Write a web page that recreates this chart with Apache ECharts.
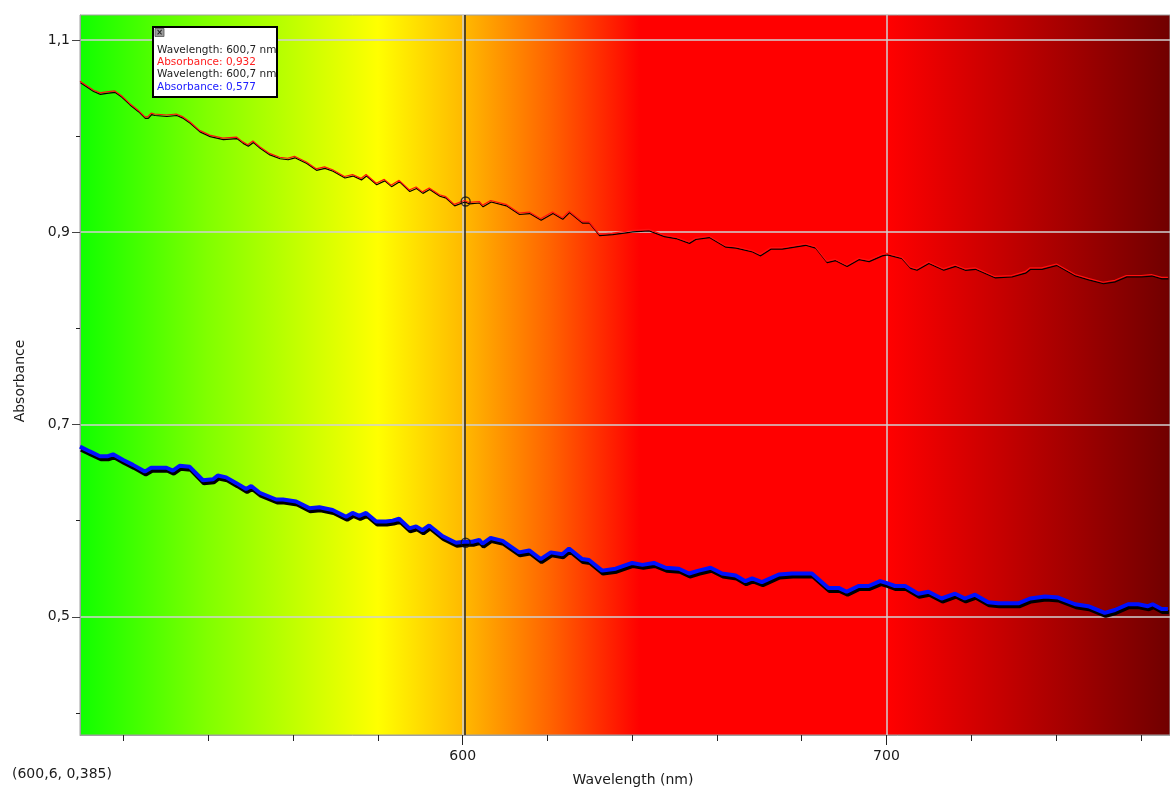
<!DOCTYPE html>
<html><head><meta charset="utf-8">
<script src="https://cdn.jsdelivr.net/npm/echarts@6/dist/echarts.min.js"></script>
<style>html,body{margin:0;padding:0;background:#fff}#c{width:1170px;height:790px}</style>
</head><body><div id="c"></div>
<script>
// ---- data ----
const redWl = [509.7,512.8,514.4,515.9,517.9,519.5,521.4,523.4,525.0,525.7,526.5,527.3,530.1,532.4,534.0,535.6,537.9,540.3,543.4,546.6,548.1,549.3,550.5,552.1,554.4,556.8,558.7,560.3,563.1,565.4,567.4,569.3,572.1,574.0,576.0,577.2,579.6,581.5,583.1,585.0,587.4,589.0,590.5,592.1,594.5,596.0,598.0,600.4,601.5,603.9,604.7,606.6,610.2,613.3,615.7,618.4,621.2,623.5,625.1,628.2,629.8,632.2,635.3,638.4,640.0,643.9,647.5,650.2,653.4,654.9,658.1,662.0,664.4,668.3,670.2,672.6,675.3,680.8,683.2,685.9,687.9,690.6,693.4,695.8,698.9,700.1,703.6,705.6,707.1,709.9,713.4,716.2,718.5,720.9,725.6,729.5,732.7,733.9,736.6,740.1,744.5,747.6,751.1,753.9,756.6,760.1,762.5,764.9,766.4];
const redAbs = [1.057,1.048,1.045,1.046,1.047,1.042,1.034,1.027,1.020,1.020,1.024,1.023,1.022,1.023,1.020,1.015,1.006,1.001,0.998,0.999,0.994,0.991,0.995,0.989,0.982,0.978,0.977,0.979,0.973,0.966,0.968,0.965,0.958,0.960,0.956,0.960,0.951,0.955,0.949,0.954,0.944,0.947,0.942,0.946,0.939,0.937,0.929,0.933,0.931,0.932,0.928,0.933,0.929,0.920,0.921,0.914,0.921,0.915,0.922,0.911,0.911,0.898,0.899,0.901,0.902,0.903,0.897,0.895,0.890,0.894,0.896,0.886,0.885,0.881,0.877,0.884,0.884,0.888,0.885,0.870,0.872,0.866,0.873,0.871,0.877,0.878,0.874,0.864,0.862,0.869,0.862,0.866,0.862,0.863,0.854,0.855,0.859,0.863,0.863,0.867,0.856,0.852,0.848,0.850,0.855,0.855,0.856,0.853,0.853];
const blueWl = [509.7,512.0,514.4,516.3,517.5,519.9,522.2,525.0,526.5,530.1,531.6,533.2,535.6,538.7,541.1,542.2,544.2,546.6,548.9,550.1,552.1,556.0,557.6,560.7,563.8,566.2,569.3,572.5,574.0,575.6,577.2,579.6,581.9,583.5,585.0,587.4,589.0,590.5,592.1,595.2,598.4,600.4,602.3,603.9,604.7,606.6,609.4,613.3,615.7,618.4,620.8,623.5,625.1,628.2,629.8,632.9,636.1,640.0,642.4,645.1,647.9,651.0,653.4,655.7,658.5,661.2,664.4,666.7,668.3,670.6,674.6,677.7,682.4,686.3,688.7,690.6,693.4,695.8,698.5,700.1,702.0,704.4,707.5,709.9,713.0,716.2,718.5,720.9,724.0,726.4,731.1,733.9,737.4,740.5,744.5,747.6,751.5,753.9,757.0,759.4,761.7,762.8,764.9,766.4];
const blueAbs = [0.677,0.672,0.667,0.667,0.669,0.663,0.658,0.651,0.655,0.655,0.652,0.657,0.656,0.642,0.643,0.647,0.645,0.639,0.633,0.636,0.629,0.622,0.622,0.620,0.613,0.614,0.611,0.604,0.608,0.605,0.608,0.599,0.599,0.600,0.602,0.592,0.594,0.590,0.595,0.584,0.577,0.578,0.578,0.580,0.576,0.582,0.579,0.567,0.569,0.560,0.567,0.565,0.571,0.560,0.559,0.548,0.550,0.556,0.554,0.556,0.551,0.550,0.545,0.548,0.551,0.545,0.543,0.537,0.540,0.536,0.544,0.545,0.545,0.530,0.530,0.526,0.532,0.532,0.537,0.535,0.532,0.532,0.524,0.526,0.519,0.524,0.519,0.523,0.515,0.514,0.514,0.519,0.521,0.520,0.513,0.511,0.504,0.507,0.513,0.513,0.511,0.513,0.508,0.508];
const xTicksMinor = [520,540,560,580,600,620,640,660,680,700,720,740,760];
const xTicksMajor = [600,700];
const yTicksMinor = [0.4,0.5,0.6,0.7,0.8,0.9,1.0,1.1];
const yTicksMajor = [0.5,0.7,0.9,1.1];
const cursorPos = [600.6, 0.385];
const readoutWl = [600.7, 600.7];
const readoutAbs = [0.932, 0.577];
const xRange = [509.7, 766.9];
const yRange = [0.377, 1.126];

const comma = v => String(+v.toFixed(3)).replace('.', ',');
const FONT = 'DejaVu Sans';

const chart = echarts.init(document.getElementById('c'), null, {renderer: 'canvas'});
const bg = new echarts.graphic.LinearGradient(0, 0, 1, 0, [
  {offset: 0, color: '#10ff00'},
  {offset: 0.1165, color: '#80ff00'},
  {offset: 0.2734, color: '#ffff00'},
  {offset: 0.3532, color: '#ffb800'},
  {offset: 0.431, color: '#ff6400'},
  {offset: 0.5138, color: '#ff0000'},
  {offset: 0.7413, color: '#ff0000'},
  {offset: 1, color: '#700000'}
]);

const axisCommon = {type: 'value', silent: true};
chart.setOption({
  animation: false,
  backgroundColor: '#ffffff',
  grid: {left: 80, top: 15, right: -2, bottom: 55, show: true, backgroundColor: bg, borderColor: '#a0a0a0', borderWidth: 1},
  xAxis: [
    Object.assign({}, axisCommon, {min: xRange[0], max: xRange[1], position: 'bottom',
      axisLine: {show: true, lineStyle: {color: '#a0a0a0', width: 1}},
      axisTick: {show: true, customValues: xTicksMinor, length: 6, lineStyle: {color: '#222'}},
      axisLabel: {show: false}, splitLine: {show: false}}),
    Object.assign({}, axisCommon, {min: xRange[0], max: xRange[1], position: 'bottom',
      axisLine: {show: false},
      axisTick: {show: true, customValues: xTicksMajor, length: 10, lineStyle: {color: '#222'}},
      axisLabel: {show: true, customValues: xTicksMajor, margin: 14, color: '#1a1a1a', fontFamily: FONT, fontSize: 14, formatter: v => comma(v)},
      splitLine: {show: true, lineStyle: {color: '#d0d0d0', width: 1.5}}})
  ],
  yAxis: [
    Object.assign({}, axisCommon, {min: yRange[0], max: yRange[1], position: 'left',
      axisLine: {show: true, lineStyle: {color: '#a0a0a0', width: 1}},
      axisTick: {show: true, customValues: yTicksMinor, length: 4, lineStyle: {color: '#222'}},
      axisLabel: {show: false}, splitLine: {show: false}}),
    Object.assign({}, axisCommon, {min: yRange[0], max: yRange[1], position: 'left',
      axisLine: {show: false},
      axisTick: {show: true, customValues: yTicksMajor, length: 8, lineStyle: {color: '#444'}},
      axisLabel: {show: true, customValues: yTicksMajor, margin: 10, color: '#1a1a1a', fontFamily: FONT, fontSize: 14, formatter: v => comma(v)},
      splitLine: {show: true, lineStyle: {color: '#d0d0d0', width: 1.5}}})
  ],
  series: [
    {type: 'line', name: 'A', xAxisIndex: 0, yAxisIndex: 0, z: 5, silent: true, showSymbol: false, symbol: 'none',
     data: redWl.map((w, i) => [w, redAbs[i]]),
     lineStyle: {color: '#ff1010', width: 1.2, shadowColor: '#000', shadowOffsetY: 1.5, shadowOffsetX: 0.5, shadowBlur: 0},
     markLine: {silent: true, symbol: 'none', label: {show: false}, animation: false,
       lineStyle: {color: '#2a2a2a', width: 1.6, type: 'solid'}, data: [{xAxis: cursorPos[0]}]}},
    {type: 'line', name: 'B', xAxisIndex: 0, yAxisIndex: 0, z: 5, silent: true, showSymbol: false, symbol: 'none',
     data: blueWl.map((w, i) => [w, blueAbs[i]]),
     lineStyle: {color: '#0010ff', width: 4, shadowColor: '#000', shadowOffsetY: 3, shadowOffsetX: 1, shadowBlur: 0}},
    {type: 'scatter', xAxisIndex: 0, yAxisIndex: 0, z: 6, silent: true, symbol: 'circle', symbolSize: 9,
     data: readoutWl.map((w, i) => [w, readoutAbs[i]]),
     itemStyle: {color: 'rgba(0,0,0,0)', borderColor: '#111', borderWidth: 1.3}}
  ],
  graphic: [
    {type: 'text', left: 12, top: 767, style: {text: '(' + comma(cursorPos[0]) + ', ' + comma(cursorPos[1]) + ')', fill: '#1a1a1a', font: '14px "' + FONT + '"'}},
    {type: 'text', x: 633, y: 780, style: {text: 'Wavelength (nm)', fill: '#1a1a1a', font: '14px "' + FONT + '"', align: 'center', verticalAlign: 'middle'}},
    {type: 'text', x: 20, y: 381, rotation: Math.PI / 2, style: {text: 'Absorbance', fill: '#1a1a1a', font: '14px "' + FONT + '"', align: 'center', verticalAlign: 'middle'}},
    {type: 'rect', shape: {x: 153, y: 27, width: 124, height: 70}, style: {fill: '#ffffff', stroke: '#000', lineWidth: 2}, z: 100},
    {type: 'rect', shape: {x: 155, y: 28.5, width: 9, height: 8}, style: {fill: '#9a9a9a', stroke: '#555', lineWidth: 0.8}, z: 101},
    {type: 'text', x: 159.5, y: 33, style: {text: '×', fill: '#222', font: 'bold 8px "' + FONT + '"', align: 'center', verticalAlign: 'middle'}, z: 102},
    {type: 'text', x: 157, y: 50, style: {text: 'Wavelength: ' + comma(readoutWl[0]) + ' nm', fill: '#222', font: '10.5px "' + FONT + '"', verticalAlign: 'middle'}, z: 101},
    {type: 'text', x: 157, y: 62, style: {text: 'Absorbance: ' + comma(readoutAbs[0]), fill: '#ff2020', font: '10.5px "' + FONT + '"', verticalAlign: 'middle'}, z: 101},
    {type: 'text', x: 157, y: 74.5, style: {text: 'Wavelength: ' + comma(readoutWl[1]) + ' nm', fill: '#222', font: '10.5px "' + FONT + '"', verticalAlign: 'middle'}, z: 101},
    {type: 'text', x: 157, y: 87, style: {text: 'Absorbance: ' + comma(readoutAbs[1]), fill: '#2020ff', font: '10.5px "' + FONT + '"', verticalAlign: 'middle'}, z: 101}
  ]
});
</script></body></html>
